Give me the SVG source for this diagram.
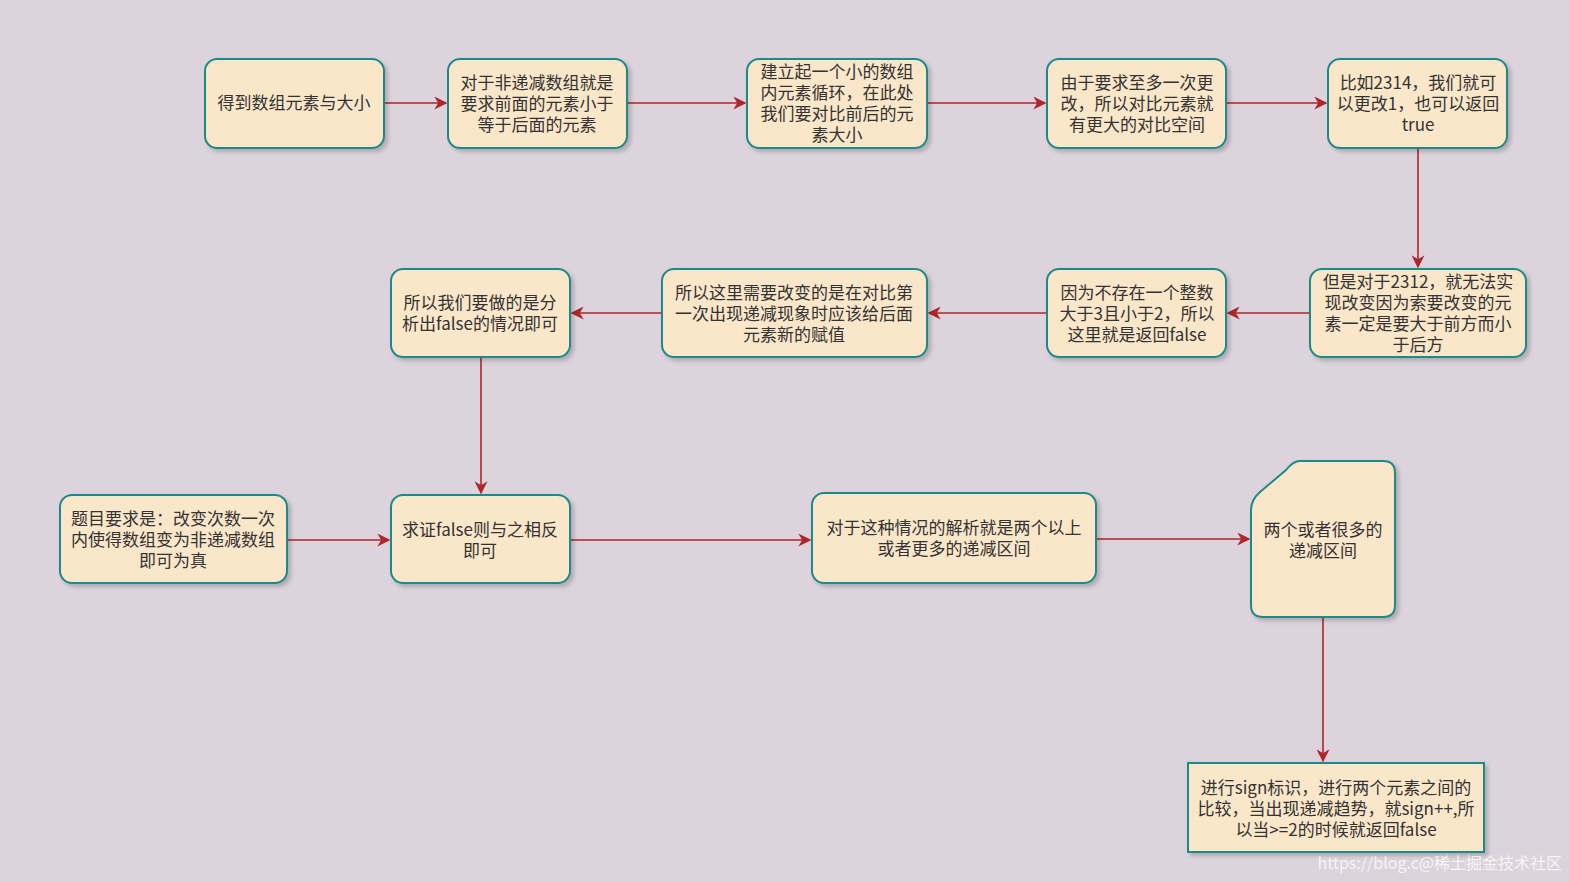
<svg xmlns="http://www.w3.org/2000/svg" width="1569" height="882" viewBox="0 0 1569 882">
<style>
.n{fill:#fae6c8;stroke:#1f8a89;stroke-width:2;filter:url(#sh)}
.t{font-family:"Noto Sans CJK SC","Liberation Sans",sans-serif;font-size:17px;fill:#333;text-anchor:middle}
.c{fill:none;stroke:#b0252a;stroke-width:1.6;marker-end:url(#a)}
</style>
<defs>
<filter id="sh" x="-10%" y="-10%" width="130%" height="130%"><feDropShadow dx="3" dy="3" stdDeviation="2" flood-color="#000" flood-opacity="0.2"/></filter>
<marker id="a" viewBox="0 0 10 10" refX="9" refY="5" markerWidth="13" markerHeight="13" markerUnits="userSpaceOnUse" orient="auto"><path d="M0,0 L10,5 L0,10 L3,5 Z" fill="#b0252a"/></marker>
</defs>
<rect width="1569" height="882" fill="#dcd3dc"/>
<g id="connectors">
<path class="c" d="M384,103 H446"/>
<path class="c" d="M627,103 H745"/>
<path class="c" d="M927,103 H1045"/>
<path class="c" d="M1226,103 H1326"/>
<path class="c" d="M1418,148 V267"/>
<path class="c" d="M1310,313 H1228"/>
<path class="c" d="M1047,313 H929"/>
<path class="c" d="M662,313 H572"/>
<path class="c" d="M481,357 V493"/>
<path class="c" d="M287,540 H389"/>
<path class="c" d="M570,540 H810"/>
<path class="c" d="M1096,539 H1249"/>
<path class="c" d="M1323,617 V761"/>
</g>
<g id="n1"><rect class="n" x="205" y="59" width="179" height="89" rx="12"/><text class="t" x="294" y="109">得到数组元素与大小</text></g>
<g id="n2"><rect class="n" x="448" y="59" width="179" height="89" rx="12"/><text class="t" x="537" y="89">对于非递减数组就是</text><text class="t" x="537" y="110">要求前面的元素小于</text><text class="t" x="537" y="131">等于后面的元素</text></g>
<g id="n3"><rect class="n" x="747" y="59" width="180" height="89" rx="12"/><text class="t" x="837" y="78">建立起一个小的数组</text><text class="t" x="837" y="99">内元素循环，在此处</text><text class="t" x="837" y="120">我们要对比前后的元</text><text class="t" x="837" y="141">素大小</text></g>
<g id="n4"><rect class="n" x="1047" y="59" width="179" height="89" rx="12"/><text class="t" x="1137" y="89">由于要求至多一次更</text><text class="t" x="1137" y="110">改，所以对比元素就</text><text class="t" x="1137" y="131">有更大的对比空间</text></g>
<g id="n5"><rect class="n" x="1328" y="59" width="179" height="89" rx="12"/><text class="t" x="1418" y="89">比如2314，我们就可</text><text class="t" x="1418" y="110">以更改1，也可以返回</text><text class="t" x="1418" y="131">true</text></g>
<g id="n6"><rect class="n" x="1310" y="269" width="216" height="88" rx="12"/><text class="t" x="1418" y="288">但是对于2312，就无法实</text><text class="t" x="1418" y="309">现改变因为索要改变的元</text><text class="t" x="1418" y="330">素一定是要大于前方而小</text><text class="t" x="1418" y="351">于后方</text></g>
<g id="n7"><rect class="n" x="1047" y="269" width="179" height="88" rx="12"/><text class="t" x="1137" y="299">因为不存在一个整数</text><text class="t" x="1137" y="320">大于3且小于2，所以</text><text class="t" x="1137" y="341">这里就是返回false</text></g>
<g id="n8"><rect class="n" x="662" y="269" width="265" height="88" rx="12"/><text class="t" x="794" y="299">所以这里需要改变的是在对比第</text><text class="t" x="794" y="320">一次出现递减现象时应该给后面</text><text class="t" x="794" y="341">元素新的赋值</text></g>
<g id="n9"><rect class="n" x="391" y="269" width="179" height="88" rx="12"/><text class="t" x="480" y="309">所以我们要做的是分</text><text class="t" x="480" y="330">析出false的情况即可</text></g>
<g id="n10"><rect class="n" x="60" y="495" width="227" height="88" rx="12"/><text class="t" x="173" y="525">题目要求是：改变次数一次</text><text class="t" x="173" y="546">内使得数组变为非递减数组</text><text class="t" x="173" y="567">即可为真</text></g>
<g id="n11"><rect class="n" x="391" y="495" width="179" height="88" rx="12"/><text class="t" x="480" y="536">求证false则与之相反</text><text class="t" x="480" y="557">即可</text></g>
<g id="n12"><rect class="n" x="812" y="493" width="284" height="90" rx="12"/><text class="t" x="954" y="534">对于这种情况的解析就是两个以上</text><text class="t" x="954" y="555">或者更多的递减区间</text></g>
<g id="n13"><path class="n" d="M1300,461 H1383 Q1395,461 1395,473 V605 Q1395,617 1383,617 H1263 Q1251,617 1251,605 V510 Q1251,500 1260,492 L1286,470 Q1293,461 1300,461 Z"/><text class="t" x="1323" y="536">两个或者很多的</text><text class="t" x="1323" y="557">递减区间</text></g>
<g id="n14"><rect class="n" x="1188" y="763" width="296" height="89"/><text class="t" x="1336" y="794">进行sign标识，进行两个元素之间的</text><text class="t" x="1336" y="815">比较，当出现递减趋势，就sign++,所</text><text class="t" x="1336" y="836">以当&gt;=2的时候就返回false</text></g>
<text x="1562" y="869" font-family="Noto Sans CJK SC,Liberation Sans,sans-serif" font-size="16" fill="#ffffff" fill-opacity="0.75" text-anchor="end">https://blog.c@稀土掘金技术社区</text>
</svg>
